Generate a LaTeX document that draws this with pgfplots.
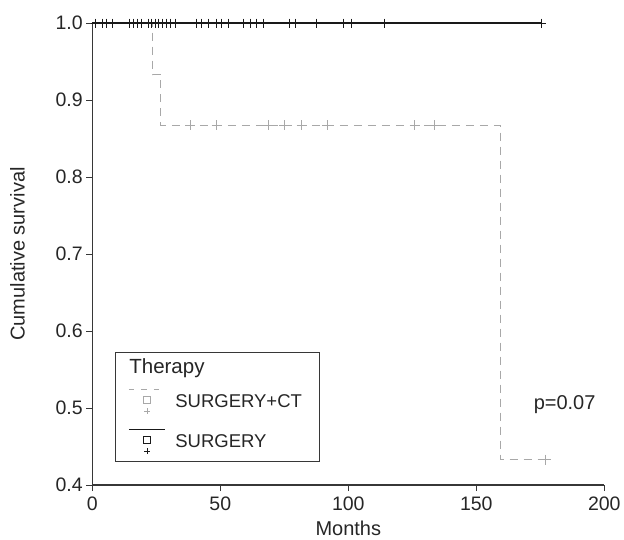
\documentclass[border=0pt]{standalone}
\usepackage{fontspec}
\setmainfont{Liberation Sans}
\usepackage{pgfplots}
\pgfplotsset{compat=1.18}
\definecolor{ctgray}{RGB}{168,168,168}
\definecolor{sgblack}{RGB}{25,25,25}
\definecolor{axgray}{RGB}{55,55,55}

\begin{document}
\begin{tikzpicture}
\useasboundingbox (-92.3pt,-54pt) rectangle (531.7pt,485pt);
\begin{axis}[
  scale only axis, width=512pt, height=462pt,
  at={(0,0)}, anchor=south west,
  xmin=0, xmax=200, ymin=0.4, ymax=1.0,
  xtick={0,50,100,150,200},
  ytick={0.4,0.5,0.6,0.7,0.8,0.9,1.0},
  axis lines=left,
  axis line style={-, axgray, line width=1.1pt},
  tick style={axgray, line width=1pt},
  tick align=outside,
  major tick length=6pt,
  clip=false,
  tick label style={font=\fontsize{19.5}{22}\selectfont, text=black!85},
  /pgf/number format/assume math mode=true,
  yticklabel style={/pgf/number format/.cd, fixed, fixed zerofill, precision=1, assume math mode=true},
  xticklabel style={yshift=-2pt},
  xlabel={Months},
  ylabel={Cumulative survival},
  label style={font=\fontsize{20}{22}\selectfont, text=black!85},
  xlabel style={at={(axis description cs:0.5,-0.093)}, anchor=center},
  ylabel style={at={(axis description cs:-0.146,0.5)}, anchor=center},
  legend style={
    at={(axis description cs:0.0443,0.2886)}, anchor=north west,
    draw=axgray, line width=0.9pt, fill=white,
    inner xsep=13pt, inner ysep=7pt,
    row sep=15pt, column sep=10pt,
    font=\fontsize{18.5}{20}\selectfont, text=black!85,
    nodes={inner sep=0pt, text depth=0pt},
    cells={anchor=west},
  },
]

\addlegendimage{empty legend}

% SURGERY+CT
\addplot[ctgray, line width=1.1pt, dash pattern=on 8pt off 6pt, const plot,
  legend image code/.code={
    \draw[ctgray, line width=0.9pt, dash pattern=on 5.5pt off 7pt] (0pt,11.5pt) -- (35pt,11.5pt);
    \draw[ctgray, line width=0.7pt, solid] (14.8pt,-2pt) rectangle (21.8pt,5pt);
    \draw[ctgray, line width=0.7pt, solid] (15.3pt,-10pt) -- (21.3pt,-10pt) (18.3pt,-13pt) -- (18.3pt,-7pt);
  }] coordinates {
  (0,1.0) (23.6,0.933) (26.8,0.867) (159.5,0.433) (177.2,0.433)
};

% SURGERY
\addplot[sgblack, line width=1.1pt, const plot,
  legend image code/.code={
    \draw[sgblack, line width=0.9pt, solid] (0pt,11.5pt) -- (36pt,11.5pt);
    \draw[sgblack, line width=0.8pt, solid] (14.8pt,-2pt) rectangle (21.8pt,5pt);
    \draw[sgblack, line width=0.8pt, solid] (15.3pt,-10pt) -- (21.3pt,-10pt) (18.3pt,-13pt) -- (18.3pt,-7pt);
  }] coordinates {
  (0,1.0) (175.5,1.0)
};

% censored, SURGERY+CT
\addplot[only marks, forget plot, mark=+, mark size=5pt, ctgray,
  mark options={line width=0.9pt, solid}] coordinates {
  (38.2,0.867) (48.6,0.867) (68.7,0.867) (74.9,0.867) (81.8,0.867)
  (91.7,0.867) (126.0,0.867) (133.5,0.867) (177.2,0.433)
};

% censored, SURGERY
\addplot[only marks, forget plot, mark=+, mark size=4.5pt, sgblack,
  mark options={line width=0.9pt, solid}] coordinates {
  (1.1,1) (4.1,1) (5.6,1) (7.7,1) (14.5,1) (16.0,1) (17.6,1) (19.3,1)
  (21.9,1) (23.2,1) (24.5,1) (25.8,1) (27.3,1) (29.1,1) (30.4,1) (32.3,1)
  (40.8,1) (42.7,1) (45.3,1) (48.6,1) (50.5,1) (53.1,1) (59.0,1) (61.6,1)
  (64.2,1) (66.8,1) (77.0,1) (79.2,1) (87.7,1) (98.0,1) (101.4,1)
  (114.3,1) (175.5,1)
};

\legend{\hspace*{-46pt}{\fontsize{20.5}{22}\selectfont Therapy}, SURGERY+CT\hspace*{5pt}, SURGERY}

\node[anchor=base, font=\fontsize{20}{22}\selectfont, text=black!85]
  at (axis cs:184.5,0.4987) {p=0.07};

\end{axis}
\end{tikzpicture}
\end{document}
